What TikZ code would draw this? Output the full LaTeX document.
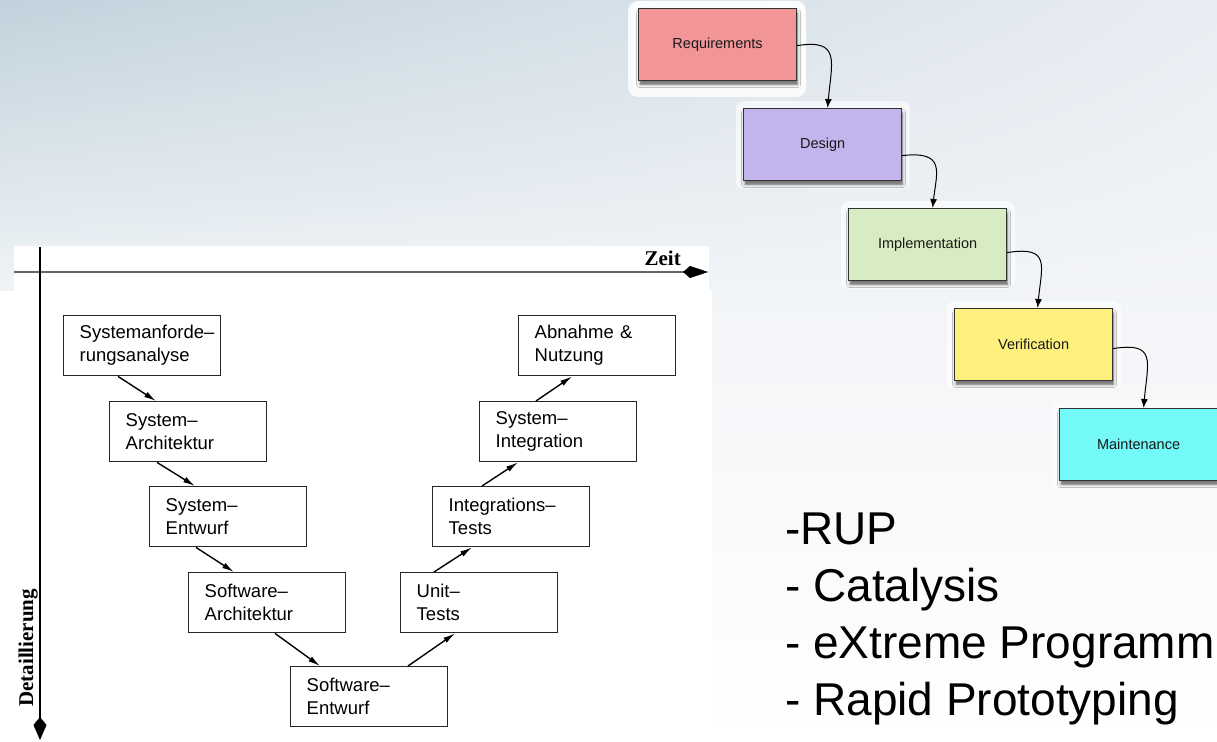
\documentclass[tikz,border=0pt]{standalone}
\usepackage{fontspec}
\setmainfont{Liberation Sans}
\newfontfamily\tms{Liberation Serif}
\usetikzlibrary{arrows.meta,shadows.blur,calc,shadings}
\definecolor{bgUL}{HTML}{C1D2DC}
\definecolor{bgUR}{HTML}{E9EDF3}
\definecolor{bgLL}{HTML}{F4F7F9}
\definecolor{bgLR}{HTML}{F3F5F8}
\definecolor{reqc}{HTML}{F29597}
\definecolor{desc}{HTML}{C4B4EC}
\definecolor{impc}{HTML}{D7ECC1}
\definecolor{verc}{HTML}{FDF07D}
\definecolor{maic}{HTML}{72F9F8}
\begin{document}
\begin{tikzpicture}[x=1pt,y=-1pt,
  wbox/.style={draw=black!80, line width=1.2pt, minimum width=158pt, minimum height=72pt,
    inner sep=0pt, anchor=north west, font=\fontsize{14.5}{16}\selectfont, text=black!90,
    preaction={draw=white, line width=16pt, line join=round, opacity=0.6},
    blur shadow={shadow xshift=1pt, shadow yshift=-4pt, shadow blur radius=3pt},
    preaction={fill=black, opacity=0.22, transform canvas={xshift=1.5pt, yshift=-4pt}}},
  warr/.style={line width=1pt, -{Latex[length=9pt,width=7pt]}},
  vbox/.style={draw=black!85, line width=1.4pt, minimum width=157pt, minimum height=60pt,
    text width=125pt, inner xsep=16pt, inner ysep=0pt, align=left, anchor=north west,
    font=\fontsize{18.5}{23}\selectfont},
  varr/.style={line width=1.4pt, -{Latex[length=12pt,width=6pt]}},
  axlab/.style={inner sep=0pt, font=\tms\bfseries\fontsize{21}{21}\selectfont},
  listtxt/.style={inner sep=0pt, anchor=base west, font=\fontsize{46}{46}\selectfont}
]
\useasboundingbox (0,0) rectangle (1217,741);
% background
\fill[white] (0,0) rectangle (1217,741);
\shade[shading=bilinear interpolation, upper left=bgUL, upper right=bgUR, lower left=bgLL, lower right=bgLR] (0,0) rectangle (1217,320);
\shade[top color=bgLR, bottom color=white] (709,320) rectangle (1217,741);

% ---- Waterfall ----
\fill[white, opacity=0.8, rounded corners=10pt] (628,1) rectangle (806,97);
\node[wbox, fill=reqc] (req) at (638,8) {Requirements};
\node[wbox, fill=desc] (des) at (743,108) {Design};
\node[wbox, fill=impc] (imp) at (848,208) {Implementation};
\node[wbox, fill=verc] (ver) at (954,308) {Verification};
\node[wbox, fill=maic] (mai) at (1059,408) {Maintenance};

\draw[warr] ($(req.east)+(0,1)$) .. controls ($(req.east)+(44,-6)$) and ($(des.north)+(9,-46)$) .. ($(des.north)+(5,0)$);
\draw[warr] ($(des.east)+(0,11)$) .. controls ($(des.east)+(44,6)$) and ($(imp.north)+(9,-36)$) .. ($(imp.north)+(5,0)$);
\draw[warr] ($(imp.east)+(0,8)$) .. controls ($(imp.east)+(44,1)$) and ($(ver.north)+(8,-42)$) .. ($(ver.north)+(4,0)$);
\draw[warr] ($(ver.east)+(0,4)$) .. controls ($(ver.east)+(44,-3)$) and ($(mai.north)+(9,-46)$) .. ($(mai.north)+(5,0)$);

% ---- V-Modell ----
\fill[white] (14,246) rectangle (709,291);
\fill[white] (0,291) rectangle (712,741);

\coordinate (hs) at (14,272);
\coordinate (he) at (708,272);
\coordinate (vs) at (40,247);
\coordinate (ve) at (40,740);
\draw[line width=2.8pt, draw=black!60, -{Kite[length=25pt,width=12pt,inset=7pt,line width=0.5pt,color=black]}] (hs) -- (he);
\draw[line width=1.3pt, -{Kite[length=23pt,width=13pt,inset=8pt,line width=0.5pt]}] (vs) -- (ve);
\node[axlab, anchor=base east] (zeit) at (681,265) {Zeit};
\node[axlab, rotate=90, anchor=base west] (detail) at (33,707) {Detaillierung};

\node[vbox] (sa) at (63,315) {\mbox{Systemanforde–}\\rungsanalyse};
\node[vbox] (sarch) at (109,401) {System–\\Architektur};
\node[vbox] (sent) at (149,486) {System–\\Entwurf};
\node[vbox] (swa) at (188,572) {Software–\\Architektur};
\node[vbox] (swe) at (290,666) {Software–\\Entwurf};
\node[vbox] (ut) at (400,572) {Unit–\\Tests};
\node[vbox] (it) at (432,486) {Integrations–\\Tests};
\node[vbox] (si) at (479,401) {System–\\Integration};
\node[vbox] (an) at (518,315) {Abnahme \&\\Nutzung};

\draw[varr] ([xshift=55pt]sa.south west) -- ([xshift=47pt]sarch.north west);
\draw[varr] ([xshift=48pt]sarch.south west) -- ([xshift=46pt]sent.north west);
\draw[varr] ([xshift=47pt]sent.south west) -- ([xshift=46pt]swa.north west);
\draw[varr] ([xshift=87pt]swa.south west) -- ([xshift=30pt]swe.north west);
\draw[varr] ([xshift=118pt]swe.north west) -- ([xshift=55pt]ut.south west);
\draw[varr] ([xshift=34pt]ut.north west) -- ([xshift=40pt]it.south west);
\draw[varr] ([xshift=50pt]it.north west) -- ([xshift=39pt]si.south west);
\draw[varr] ([xshift=57pt]si.north west) -- ([xshift=54pt]an.south west);

% ---- list ----
\node[listtxt] (l1) at (785,544) {-RUP};
\node[listtxt] (l2) at (785,601) {- Catalysis};
\node[listtxt] (l3) at (785,658) {- eXtreme Programm};
\node[listtxt] (l4) at (785,715) {- Rapid Prototyping};
\end{tikzpicture}
\end{document}
